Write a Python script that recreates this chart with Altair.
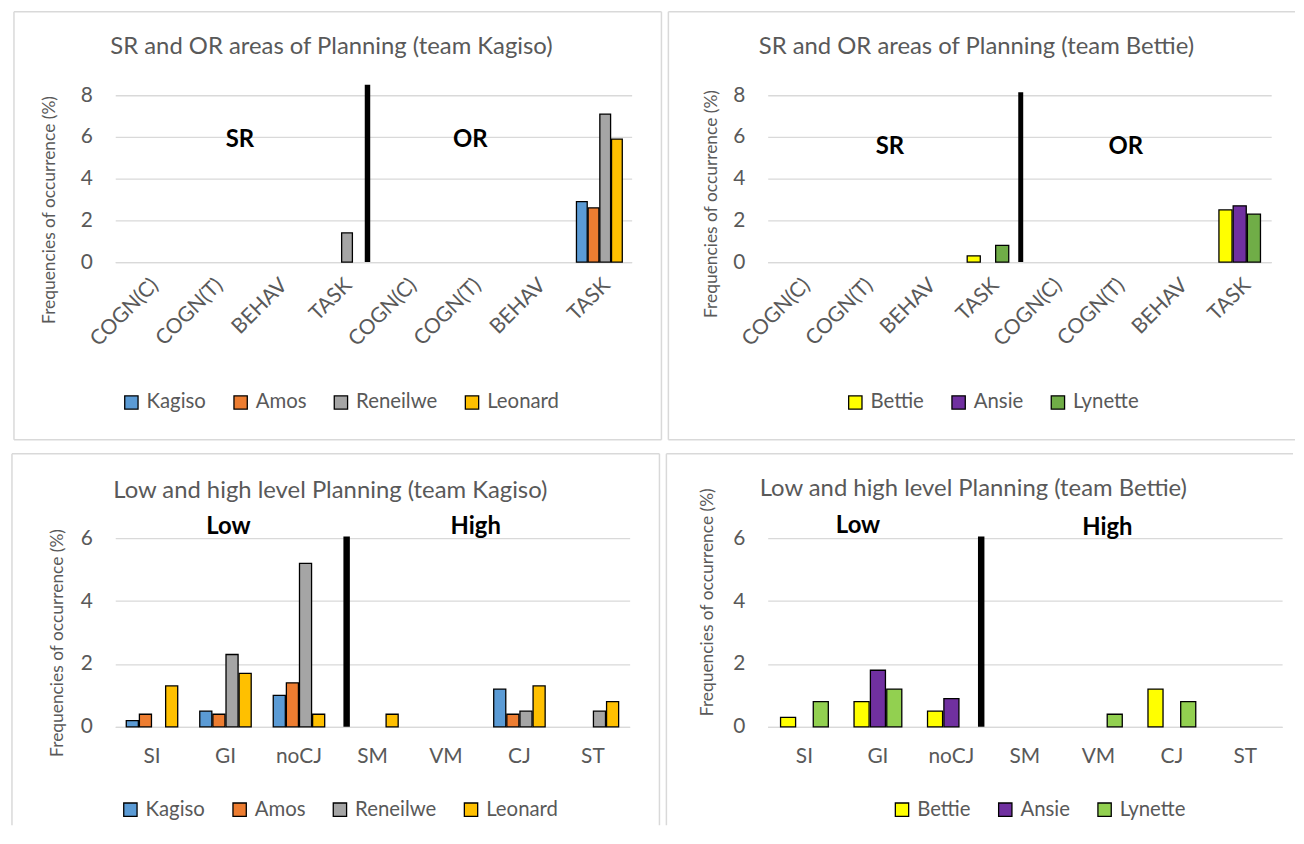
import altair as alt
import pandas as pd

FONT = "Lato"
TXT = "#595959"
GRID = "#D9D9D9"

# ---------------- data ----------------
AREAS = ["SR", "OR"]
AREA_DIMS = ["COGN(C)", "COGN(T)", "BEHAV", "TASK"]
LEVELS = ["SI", "GI", "noCJ", "SM", "VM", "CJ", "ST"]

TEAM_K = ["Kagiso", "Amos", "Reneilwe", "Leonard"]
TEAM_B = ["Bettie", "Ansie", "Lynette"]

COLORS_K = ["#5B9BD5", "#ED7D31", "#A5A5A5", "#FFC000"]
COLORS_B_TOP = ["#FFFF00", "#7030A0", "#70AD47"]
COLORS_B_BOTTOM = ["#FFFF00", "#7030A0", "#92D050"]

# SR and OR areas (SR: COGN(C), COGN(T), BEHAV, TASK, then OR: same)
KAGISO_AREA = [0, 0, 0, 0, 0, 0, 0, 2.9]
AMOS_AREA = [0, 0, 0, 0, 0, 0, 0, 2.6]
RENEILWE_AREA = [0, 0, 0, 1.4, 0, 0, 0, 7.1]
LEONARD_AREA = [0, 0, 0, 0, 0, 0, 0, 5.9]

BETTIE_AREA = [0, 0, 0, 0.3, 0, 0, 0, 2.5]
ANSIE_AREA = [0, 0, 0, 0, 0, 0, 0, 2.7]
LYNETTE_AREA = [0, 0, 0, 0.8, 0, 0, 0, 2.3]

# Low and high level (SI, GI, noCJ, SM, VM, CJ, ST)
KAGISO_LEVEL = [0.2, 0.5, 1.0, 0, 0, 1.2, 0]
AMOS_LEVEL = [0.4, 0.4, 1.4, 0, 0, 0.4, 0]
RENEILWE_LEVEL = [0, 2.3, 5.2, 0, 0, 0.5, 0.5]
LEONARD_LEVEL = [1.3, 1.7, 0.4, 0.4, 0, 1.3, 0.8]

BETTIE_LEVEL = [0.3, 0.8, 0.5, 0, 0, 1.2, 0]
ANSIE_LEVEL = [0, 1.8, 0.9, 0, 0, 0, 0]
LYNETTE_LEVEL = [0.8, 1.2, 0, 0, 0.4, 0.8, 0]

# separator heights (top of the thick black line)
SEP_TOP = [8.5, 8.15, 6.05, 6.05]

TITLES = [
    "SR and OR areas of Planning (team Kagiso)",
    "SR and OR areas of Planning (team Bettie)",
    "Low and high level Planning (team Kagiso)",
    "Low and high level Planning (team Bettie)",
]

AREA_KEYS = [f"{a}|{d}" for a in AREAS for d in AREA_DIMS]
YTITLE = "Frequencies of occurrence (%)"


def long_df(keys, series, arrays):
    rows = []
    for s, arr in zip(series, arrays):
        for k, v in zip(keys, arr):
            rows.append({"cat": k, "series": s, "value": v})
    return pd.DataFrame(rows)


ONE = alt.Data(values=[{"k": 0}])


def frame_layers(l, r, t, b, right=True, bottom=True):
    st = dict(color=GRID, strokeWidth=1.5)
    out = [
        alt.Chart(ONE).mark_rule(**st).encode(x=alt.value(l), y=alt.value(t), y2=alt.value(b)),
        alt.Chart(ONE).mark_rule(**st).encode(x=alt.value(l), x2=alt.value(r), y=alt.value(t)),
    ]
    if right:
        out.append(alt.Chart(ONE).mark_rule(**st).encode(x=alt.value(r), y=alt.value(t), y2=alt.value(b)))
    if bottom:
        out.append(alt.Chart(ONE).mark_rule(**st).encode(x=alt.value(l), x2=alt.value(r), y=alt.value(b)))
    return out


def panel(keys, series, arrays, colors, W, H, ymax, yvals, pad_inner, rotated,
          title, title_xy, legend_xy, ytitle_xy,
          sep_cat, sep_dx, sep_top, sep_w, annots, frame):
    df = long_df(keys, series, arrays)
    df = df[df["value"] > 0]

    if rotated:
        xax = alt.Axis(title=None, labelExpr="split(datum.value,'|')[1]", labelAngle=315,
                       labelAlign="right", labelBaseline="top", labelPadding=12,
                       labelFontSize=21, labelColor=TXT, labelFont=FONT,
                       domain=True, domainColor=GRID, domainWidth=1.3, ticks=False)
    else:
        xax = alt.Axis(title=None, labelAngle=0, labelPadding=19,
                       labelFontSize=21, labelColor=TXT, labelFont=FONT,
                       domain=True, domainColor=GRID, domainWidth=1.3, ticks=False)

    yax = alt.Axis(values=yvals, grid=True, gridColor=GRID, gridWidth=1.3, domain=False,
                   ticks=False, labelPadding=23, labelFontSize=21, labelColor=TXT, labelFont=FONT,
                   title=YTITLE, titleFontSize=17.5, titleFont=FONT, titleColor=TXT,
                   titleFontWeight="normal", titleX=ytitle_xy[0], titleY=ytitle_xy[1],
                   titleBaseline="middle", titleAlign="center")

    xs = alt.Scale(domain=keys, paddingInner=pad_inner, paddingOuter=pad_inner / 2)
    ys = alt.Scale(domain=[0, ymax], nice=False, zero=True)

    leg = alt.Legend(orient="none", legendX=legend_xy[0], legendY=legend_xy[1],
                     direction="horizontal", title=None, symbolType="square", symbolSize=180,
                     symbolStrokeColor="black", symbolStrokeWidth=1.3,
                     labelFontSize=20.5, labelFont=FONT, labelColor=TXT,
                     columnPadding=24, labelOffset=5)

    bars = alt.Chart(df).mark_bar(stroke="black", strokeWidth=1.3).encode(
        x=alt.X("cat:N", scale=xs, axis=xax),
        xOffset=alt.XOffset("series:N", scale=alt.Scale(domain=series, paddingInner=0.08)),
        y=alt.Y("value:Q", scale=ys, axis=yax),
        color=alt.Color("series:N", scale=alt.Scale(domain=series, range=colors), legend=leg),
    )

    sep_df = pd.DataFrame({"cat": [sep_cat], "value": [sep_top]})
    sep = alt.Chart(sep_df).mark_rule(color="black", strokeWidth=sep_w, xOffset=sep_dx).encode(
        x=alt.X("cat:N", bandPosition=0.5),
        y=alt.Y("value:Q"),
        y2=alt.datum(0),
    )

    texts = []
    for txt, cat, yv, dx in annots:
        texts.append(
            alt.Chart(ONE).mark_text(text=txt, dx=dx, font=FONT, fontSize=24,
                                     fontWeight="bold", color="black", baseline="alphabetic")
            .encode(x=alt.datum(cat), y=alt.datum(yv))
        )

    ttl = alt.Chart(ONE).mark_text(text=title, font=FONT, fontSize=24, color=TXT,
                                   align="left", baseline="alphabetic").encode(
        x=alt.value(title_xy[0]), y=alt.value(title_xy[1]))

    layers = frame_layers(*frame) + [ttl, bars, sep] + texts
    return alt.layer(*layers).properties(width=W, height=H)


tl = panel(AREA_KEYS, TEAM_K, [KAGISO_AREA, AMOS_AREA, RENEILWE_AREA, LEONARD_AREA], COLORS_K,
           520, 168, 8, [0, 2, 4, 6, 8], 0.29, True,
           TITLES[0], (-5, -42), (6, 299), (-66, 115),
           "SR|TASK", 26.5, SEP_TOP[0], 5.5,
           [("SR", "SR|COGN(T)", 5.5, 28), ("OR", "OR|COGN(T)", 5.5, 0)],
           (-102, 550, -84, 347, True, True))

tr = panel(AREA_KEYS, TEAM_B, [BETTIE_AREA, ANSIE_AREA, LYNETTE_AREA], COLORS_B_TOP,
           507, 168, 8, [0, 2, 4, 6, 8], 0.34, True,
           TITLES[1], (-9, -42), (78, 299), (-57, 109),
           "SR|TASK", 33, SEP_TOP[1], 5,
           [("SR", "SR|COGN(T)", 5.2, 28), ("OR", "OR|COGN(T)", 5.2, 12)],
           (-100, 531, -84, 347, False, True))

bl = panel(LEVELS, TEAM_K, [KAGISO_LEVEL, AMOS_LEVEL, RENEILWE_LEVEL, LEONARD_LEVEL], COLORS_K,
           518, 190, 6, [0, 2, 4, 6], 0.3, False,
           TITLES[2], (-2, -40), (5, 263), (-58, 105),
           "noCJ", 48, SEP_TOP[2], 6.5,
           [("Low", "GI", 6.12, 3), ("High", "VM", 6.12, 30)],
           (-104, 548, -85, 289, True, False))

br = panel(LEVELS, TEAM_B, [BETTIE_LEVEL, ANSIE_LEVEL, LYNETTE_LEVEL], COLORS_B_BOTTOM,
           518, 190, 6, [0, 2, 4, 6], 0.35, False,
           TITLES[3], (-8, -42), (125, 263), (-61, 64),
           "noCJ", 30, SEP_TOP[3], 6.5,
           [("Low", "GI", 6.15, -20), ("High", "VM", 6.1, 9)],
           (-102, 529, -85, 289, False, False))

res = dict(color="independent", xOffset="independent")
top = alt.hconcat(tl, tr, spacing=5).resolve_scale(**res)
bottom = alt.hconcat(bl, br, spacing=5).resolve_scale(**res)
chart = alt.vconcat(top, bottom, spacing=12).resolve_scale(**res).properties(
    padding={"left": 3, "top": 0, "right": 0, "bottom": 0}
).configure_view(stroke=None)

chart.save("out.html", embed_options={"renderer": "svg", "actions": False})
